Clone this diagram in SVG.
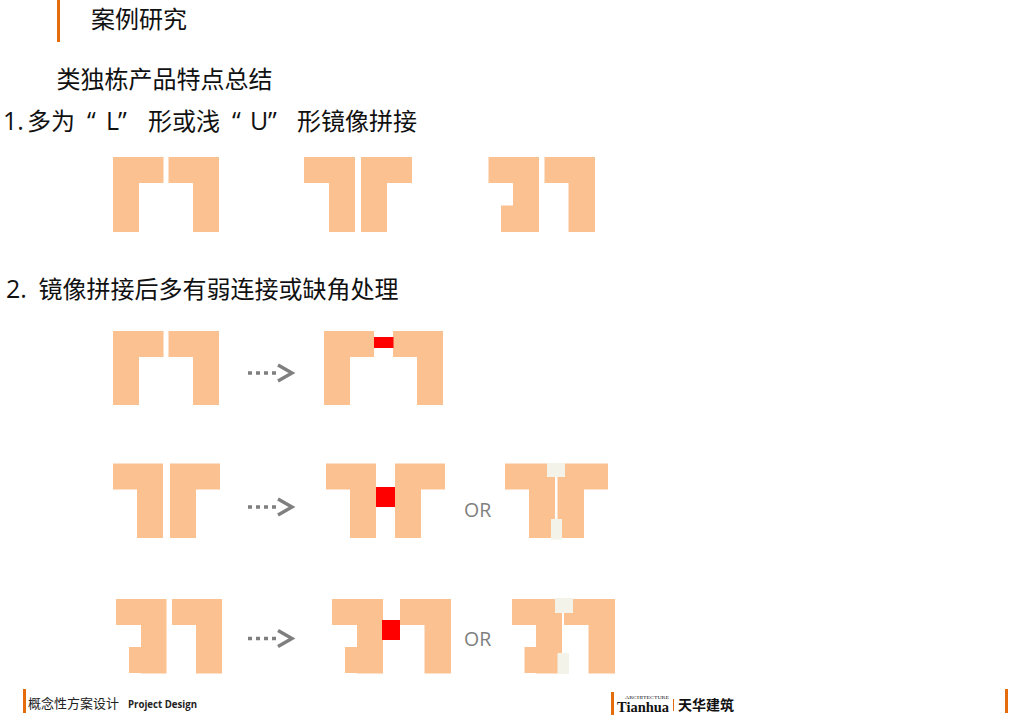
<svg xmlns="http://www.w3.org/2000/svg" width="1024" height="724" viewBox="0 0 1024 724">
<style>
.b{fill:#fbc190}
.r{fill:#ff0000}
.c{fill:#f4f3ea}
.o{fill:#e46c0a}
.t{font-family:"Noto Sans CJK SC","Open Sans",sans-serif;font-size:24px;fill:#111}
.l{font-family:"Open Sans","Noto Sans CJK SC",sans-serif;font-size:25px;fill:#111}
.or{font-family:"Open Sans",sans-serif;font-size:19.500px;fill:#7f7f7f}
.a{stroke:#7f7f7f;stroke-width:3.5;stroke-dasharray:4 4;fill:none}
</style>
<defs>
<marker id="chev" markerUnits="userSpaceOnUse" markerWidth="24" markerHeight="24" refX="0" refY="12" orient="auto" overflow="visible">
<polyline points="2,4 16,12 2,20" fill="none" stroke="#7f7f7f" stroke-width="3.4"/>
</marker>
</defs>
<rect width="1024" height="724" fill="#fff"/>

<g id="header">
<rect class="o" x="57" y="0" width="3" height="42"/>
<text class="t" x="91" y="28">案例研究</text>
<text class="t" x="56.500" y="88">类独栋产品特点总结</text>
<text class="l" x="3" y="129.500">1.</text>
<text class="t" x="27" y="129.500">多为</text>
<text class="l" y="129.500"><tspan x="87">“</tspan><tspan x="106">L</tspan><tspan x="118">”</tspan></text>
<text class="t" x="148" y="129.500">形或浅</text>
<text class="l" y="129.500"><tspan x="232">“</tspan><tspan x="250">U</tspan><tspan x="268">”</tspan></text>
<text class="t" x="297" y="129.500">形镜像拼接</text>
<text class="l" x="6" y="297.500">2.</text>
<text class="t" x="38.500" y="297.500">镜像拼接后多有弱连接或缺角处理</text>
</g>

<g id="row1-a">
<path class="b" d="M113 157H163.500V183H139V232H113Z"/>
<path class="b" d="M219 157H168.500V183H193V232H219Z"/>
</g>
<g id="row1-b">
<path class="b" d="M304 157H355V232H329V183H304Z"/>
<path class="b" d="M412 157H361V232H387V183H412Z"/>
</g>
<g id="row1-c">
<path class="b" d="M488.500 157H539V232H501V205.500H513V183H488.500Z"/>
<path class="b" d="M595 157H544.500V183H568.500V232H595Z"/>
</g>

<g id="row2-a">
<path class="b" d="M113 331H163.500V357H139V405H113Z"/>
<path class="b" d="M219 331H168.500V357H193V405H219Z"/>
</g>
<g id="row2-b">
<path class="b" d="M324 331H374V357H350V405H324Z"/>
<path class="b" d="M443 331H393V357H417V405H443Z"/>
<rect class="r" x="374" y="337" width="19.500" height="11"/>
</g>

<g id="row3-a">
<path class="b" d="M113 463.500H163V538H137V489.500H113Z"/>
<path class="b" d="M220 463.500H170V538H196V489.500H220Z"/>
</g>
<g id="row3-b">
<path class="b" d="M326 463.500H376V538H350V489.500H326Z"/>
<path class="b" d="M445 463.500H395V538H421V489.500H445Z"/>
<rect class="r" x="376" y="487" width="19" height="20"/>
</g>
<g id="row3-or">
<text class="or" x="464" y="516.500">OR</text>
</g>
<g id="row3-c">
<path class="b" d="M505 463.500H555V538H529V489.500H505Z"/>
<path class="b" d="M608 463.500H557.500V538H584V489.500H608Z"/>
<rect class="c" x="547" y="463" width="18" height="14"/>
<rect class="c" x="551" y="519" width="11" height="20.500"/>
</g>

<g id="row4-a">
<path class="b" d="M116 599H166.500V673.500H141V673H129V647H141V625H116Z"/>
<path class="b" d="M222 599H172V625H196V673.500H222Z"/>
</g>
<g id="row4-b">
<path class="b" d="M332 599H383V673.500H357V673H345V647H357V625H332Z"/>
<path class="b" d="M451 599H400V625H424.500V673.500H451Z"/>
<rect class="r" x="382" y="620" width="18" height="20"/>
</g>
<g id="row4-or">
<text class="or" x="464" y="646">OR</text>
</g>
<g id="row4-c">
<path class="b" d="M512 599H562V673.500H536V673H524.500V647H536V625H512Z"/>
<path class="b" d="M615 599H564V625H588.500V673.500H615Z"/>
<rect class="c" x="555" y="598" width="18" height="15"/>
<rect class="c" x="557.500" y="653" width="11.500" height="21"/>
</g>

<g id="connectors">
<line class="a" x1="248" y1="373" x2="276" y2="373" marker-end="url(#chev)"/>
<line class="a" x1="248" y1="507" x2="276" y2="507" marker-end="url(#chev)"/>
<line class="a" x1="248" y1="638.500" x2="276" y2="638.500" marker-end="url(#chev)"/>
</g>

<g id="footer">
<rect class="o" x="23" y="689" width="3" height="24"/>
<text x="28" y="708" style="font-family:'Noto Sans CJK SC',sans-serif;font-size:13px;fill:#222">概念性方案设计</text>
<text x="128" y="708" textLength="69" lengthAdjust="spacingAndGlyphs" style="font-family:'Open Sans',sans-serif;font-size:10px;font-weight:700;fill:#222">Project Design</text>
<rect class="o" x="611" y="692" width="3" height="23"/>
<text x="617" y="711.500" textLength="52" lengthAdjust="spacingAndGlyphs" style="font-family:'Liberation Serif',serif;font-size:14px;font-weight:700;fill:#111">Tianhua</text>
<text x="625" y="698.500" textLength="44" lengthAdjust="spacingAndGlyphs" style="font-family:'Liberation Serif',serif;font-size:4.500px;fill:#111">ARCHITECTURE</text>
<rect class="o" x="673" y="699" width="1" height="12"/>
<text x="678" y="710" style="font-family:'Noto Sans CJK SC',serif;font-size:14px;font-weight:700;fill:#111">天华建筑</text>
<rect class="o" x="1005" y="689" width="3" height="24"/>
</g>
</svg>
